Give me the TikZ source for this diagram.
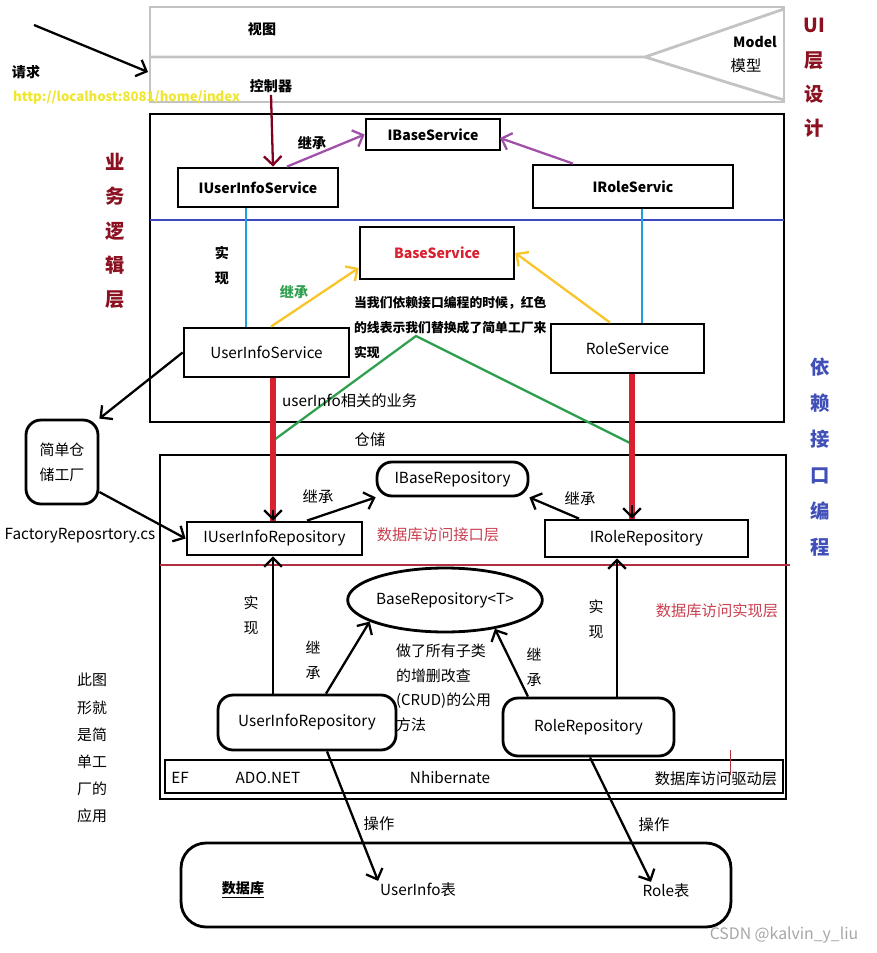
\documentclass[tikz,border=0pt]{standalone}
\usepackage{fontspec}
\setmainfont{Noto Sans CJK SC}
\usepackage{tikz}
\usetikzlibrary{shapes.geometric}
\usetikzlibrary{arrows.meta}

\definecolor{uigray}{HTML}{C3C3C3}
\definecolor{layerred}{HTML}{8B1020}
\definecolor{ctrlred}{HTML}{800020}
\definecolor{inhpurple}{HTML}{A050A8}
\definecolor{splitblue}{HTML}{3C48C0}
\definecolor{implcyan}{HTML}{1EA0E0}
\definecolor{inhyellow}{HTML}{F8C428}
\definecolor{factgreen}{HTML}{30A050}
\definecolor{depred}{HTML}{D82030}
\definecolor{repored}{HTML}{B03040}
\definecolor{repotext}{HTML}{C84050}
\definecolor{urlyellow}{HTML}{EEE630}
\definecolor{depblue}{HTML}{4050B8}

\begin{document}
\begin{tikzpicture}[x=0.02cm, y=-0.02cm,
    >={Straight Barb[length=5pt,width=10pt]},
    txt/.style={inner sep=1pt, font=\fontsize{8.7}{10}\selectfont},
    txtb/.style={txt, font=\fontsize{8}{10}\selectfont\bfseries},
    box/.style={draw, line width=1.6pt, inner sep=0pt, font=\fontsize{8.7}{10}\selectfont},
    roundbox/.style={box, rounded corners=0.3cm},
    frame/.style={line width=1.6pt},
    uiframe/.style={draw=uigray, line width=1.6pt},
    arrow/.style={->, line width=1.3pt},
    vlabel/.style={align=center, inner sep=0pt, font=\fontsize{11}{19.5}\selectfont\bfseries},
    vsmall/.style={align=center, inner sep=0pt, font=\fontsize{8.5}{14}\selectfont}]
    \useasboundingbox (0,0) rectangle (876,953);
    % Paths, nodes and wires:
    \draw[uiframe] (150,7) rectangle (784,102);
    \draw[uiframe] (150,57) -- (645,57) -- (784,9) (645,57) -- (784,100);
    \draw[frame] (150,114) rectangle (784,422);
    \draw[splitblue, line width=1.3pt] (150,220) -- (784,220);
    \draw[frame] (160,455) rectangle (786,799);
    \draw[repored, line width=1.3pt] (160,565) -- (790,565);

    \node[txtb] (view) at (262,29) {视图};
    \node[txtb] (ctrl) at (271,86) {控制器};
    \node[txtb] (model) at (755,42) {Model};
    \node[txt] (modelcn) at (746,66) {模型};
    \node[txtb] (req) at (26,72) {请求};
    \node[txtb, text=urlyellow, anchor=west, font=\fontsize{7.5}{9}\selectfont\bfseries] (url) at (11,97) {http://localhost:8081/home/index};
    \coordinate (reqS) at (34,25);
    \coordinate (reqE) at (148,72);
    \draw[arrow] (reqS) -- (reqE);

    \node[vlabel, text=layerred] (uilayer) at (814,78) {UI\\层\\设\\计};
    \node[vlabel, text=layerred] (bizlayer) at (115,231) {业\\务\\逻\\辑\\层};
    \node[vlabel, text=depblue, font=\fontsize{11}{20.5}\selectfont\bfseries] (deplayer) at (820,457) {依\\赖\\接\\口\\编\\程};

    \node[box, font=\fontsize{8}{10}\selectfont\bfseries, minimum width=2.68cm, minimum height=0.62cm] (ibs) at (433,134.5) {IBaseService};
    \node[box, font=\fontsize{8}{10}\selectfont\bfseries, minimum width=3.2cm, minimum height=0.78cm] (ius) at (258,187.5) {IUserInfoService};
    \node[box, font=\fontsize{8}{10}\selectfont\bfseries, minimum width=4cm, minimum height=0.86cm] (irs) at (633,186.5) {IRoleServic};
    \node[box, text=depred, font=\fontsize{8}{10}\selectfont\bfseries, minimum width=3.08cm, minimum height=1.04cm] (bs) at (437,253) {BaseService};
    \node[box, minimum width=3.3cm, minimum height=0.98cm] (us) at (266.5,352.5) {UserInfoService};
    \node[box, minimum width=3.06cm, minimum height=0.98cm] (rs) at (627.5,348.5) {RoleService};

    \draw[ctrlred, arrow] (ctrl.south) -- (273,0 |- ius.north);
    \node[txtb] (inh1) at (312,143) {继承};
    \draw[inhpurple, arrow] (287,0 |- ius.north) -- (ibs.west);
    \draw[inhpurple, arrow] (573,0 |- irs.north) -- (500,138);
    \draw[implcyan, line width=1.4pt] (246,0 |- ius.south) -- (246,0 |- us.north);
    \draw[implcyan, line width=1.4pt] (642,0 |- irs.south) -- (642,0 |- rs.north);
    \node[vsmall, font=\fontsize{8}{14}\selectfont\bfseries] (impl1) at (222,265.5) {实\\现};
    \draw[inhyellow, arrow] (271,0 |- us.north) -- ([yshift=-0.3cm]bs.west);
    \draw[inhyellow, arrow] (610,0 |- rs.north) -- (bs.east);
    \node[txtb, text=factgreen] (inh2) at (294,292) {继承};
    \node[txtb, anchor=west, align=left, font=\fontsize{7.3}{14.2}\selectfont\bfseries] (note) at (352,328) {当我们依赖接口编程的时候，红色\\的线表示我们替换成了简单工厂来\\实现};
    \coordinate (gl) at (274,440);
    \coordinate (gm) at (416,336);
    \coordinate (gr) at (630,443);
    \draw[factgreen, line width=1.3pt] (gl) -- (gm) -- (gr);
    \node[txt, anchor=west] (biz) at (280,401) {userInfo相关的业务};
    \node[txt] (store) at (370,440) {仓储};

    \node[roundbox, align=center, font=\fontsize{8.5}{14}\selectfont, minimum width=1.44cm, minimum height=1.68cm] (fac) at (62,462) {简单仓\\储工厂};
    \node[txt] (facfile) at (80,536) {FactoryReposrtory.cs};

    \node[roundbox, minimum width=3.02cm, minimum height=0.68cm] (ibr) at (452.5,479) {IBaseRepository};
    \node[box, minimum width=3.5cm, minimum height=0.66cm] (iur) at (274.5,538.5) {IUserInfoRepository};
    \node[box, minimum width=4.06cm, minimum height=0.74cm] (irr) at (646.5,538.5) {IRoleRepository};
    \node[txt, text=repotext] (ilayer) at (438,535) {数据库访问接口层};
    \node[draw, ellipse, line width=1.6pt, inner sep=0pt, minimum width=3.88cm, minimum height=1.28cm, font=\fontsize{8.7}{10}\selectfont] (br) at (445,600) {BaseRepository<T>};
    \node[txt, text=repotext] (rlayer) at (717,611) {数据库访问实现层};
    \node[roundbox, minimum width=3.56cm, minimum height=1.1cm] (ur) at (307,722.5) {UserInfoRepository};
    \node[roundbox, minimum width=3.42cm, minimum height=1.16cm] (rr) at (588.5,727) {RoleRepository};
    \node[txt, anchor=west, align=left, font=\fontsize{8.5}{14}\selectfont] (crud) at (394,688) {做了所有子类\\的增删改查\\(CRUD)的公用\\方法};
    \node[vsmall] (impl2) at (251,615) {实\\现};
    \node[vsmall] (impl3) at (596,619.5) {实\\现};
    \node[vsmall] (inh3) at (313,660) {继\\承};
    \node[vsmall] (inh4) at (534,667.5) {继\\承};
    \node[vsmall, font=\fontsize{8.5}{15.4}\selectfont] (note2) at (92,748) {此图\\形就\\是简\\单工\\厂的\\应用};

    \node[box, minimum width=12.36cm, minimum height=0.66cm] (drv) at (474,776.5) {};
    \node[txt] (ef) at (180,778) {EF};
    \node[txt] (ado) at (268,778) {ADO.NET};
    \node[txt] (nh) at (450,778) {Nhibernate};
    \node[txt] (dlayer) at (716,779) {数据库访问驱动层};
    \draw[repored, line width=0.4pt] (730,750) -- (730,775);

    \draw[depred, line width=3pt] (273,0 |- us.south) -- (273,0 |- iur.north);
    \draw[depred, line width=3pt] (632,0 |- rs.south) -- (632,0 |- irr.north);
    \draw[arrow] (273,510) -- (273,0 |- iur.north);
    \draw[arrow] (632,505) -- (632,0 |- irr.north);
    \draw[arrow] (us.west) -- (fac.north east);
    \draw[arrow] ([yshift=-0.6cm]fac.east) -- (iur.west);
    \draw[arrow] (307,0 |- iur.north) -- (ibr.south west);
    \node[txt] (inh5) at (318,497) {继承};
    \draw[arrow] (579,0 |- irr.north) -- (ibr.south east);
    \node[txt] (inh6) at (580,499) {继承};
    \draw[arrow] (273,0 |- ur.north) -- (273,0 |- iur.south);
    \draw[arrow] (617,0 |- rr.north) -- (617,0 |- irr.south);
    \draw[arrow] (326,0 |- ur.north) -- (br.196);
    \draw[arrow] (528,0 |- rr.north) -- (br.330);

    \node[roundbox, rounded corners=0.5cm, minimum width=11cm, minimum height=1.68cm] (db) at (456,885) {};
    \node[txtb] (dbname) at (243,890) {\underline{数据库}};
    \node[txt] (uit) at (418,890) {UserInfo表};
    \node[txt] (rt) at (666,891) {Role表};
    \draw[arrow] (327,0 |- ur.south) -- (uit.north west);
    \draw[arrow] (590,0 |- rr.south) -- (651,0 |- rt.north);
    \node[txt] (op1) at (379,824) {操作};
    \node[txt] (op2) at (654,825) {操作};

    \node[txt, text=gray!70, font=\fontsize{9}{11}\selectfont] (mark) at (784,935) {CSDN @kalvin\_y\_liu};
\end{tikzpicture}
\end{document}
